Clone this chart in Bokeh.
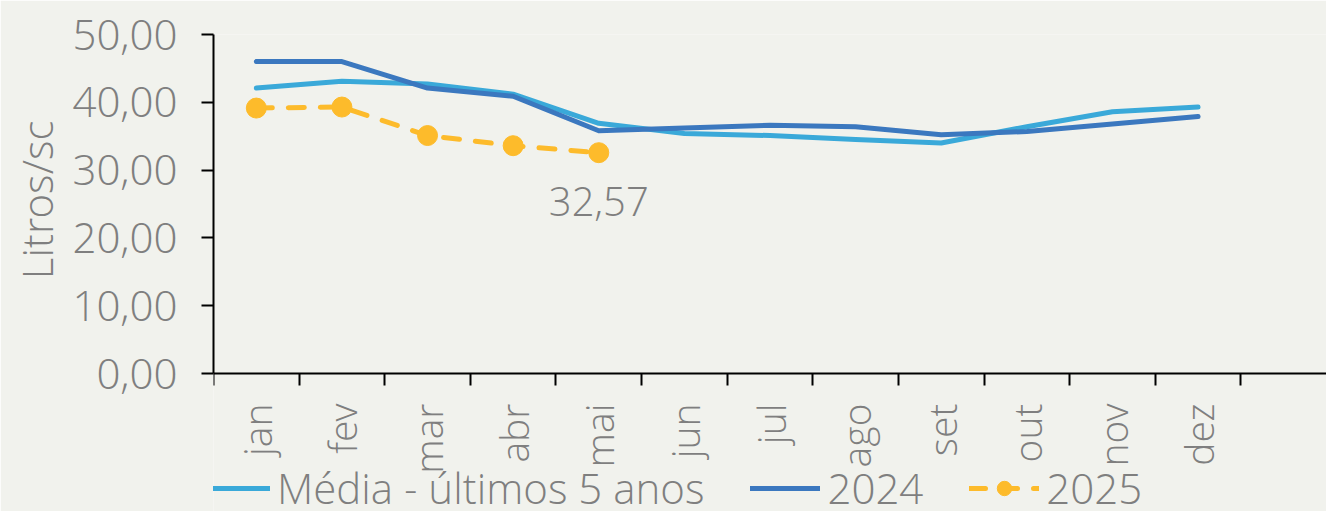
import math
from bokeh.plotting import figure
from bokeh.models import (Range1d, FixedTicker, CustomJSTickFormatter, Legend, LegendItem,
                          ColumnDataSource, Title)
from bokeh.core.properties import value
from bokeh.embed import file_html
from bokeh.resources import INLINE

months = ["jan", "fev", "mar", "abr", "mai", "jun", "jul", "ago", "set", "out", "nov", "dez"]
media = [42.1, 43.1, 42.7, 41.2, 36.9, 35.4, 35.1, 34.5, 34.0, 36.4, 38.6, 39.3]
y2024 = [46.0, 46.0, 42.1, 40.9, 35.8, 36.2, 36.6, 36.4, 35.2, 35.7, 36.8, 37.9]
y2025 = [39.15, 39.3, 35.1, 33.6, 32.57]
y_ticks = [0, 10, 20, 30, 40, 50]
series_names = ["Média - últimos 5 anos", "2024", "2025"]
y_title = "Litros/sc"

FONT = "Open Sans Light, Open Sans"
GRAY = "#7f7f7f"
BG = "#f1f2ed"
C_MEDIA = "#3aa9d9"
C_2024 = "#3b78bf"
C_2025 = "#fdbb2b"

xs = [i + 0.5 for i in range(len(months))]

# frame spans y 34..511 px; value 0 must sit at y=373 px, 50 at y=34 px
Y_MIN = -50 * (511 - 373) / (373 - 34)

p = figure(width=1326, height=511, output_backend="svg", toolbar_location=None,
           x_range=Range1d(0, 13), y_range=Range1d(Y_MIN, 50),
           min_border_left=213, min_border_right=0, min_border_top=34, min_border_bottom=0)
p.background_fill_color = BG
p.border_fill_color = BG
p.outline_line_color = None
p.xgrid.visible = False
p.ygrid.visible = False

r_media = p.line(xs, media, line_color=C_MEDIA, line_width=5, line_cap="round", line_join="round")
r_2024 = p.line(xs, y2024, line_color=C_2024, line_width=5, line_cap="round", line_join="round")
xs25 = xs[:len(y2025)]
r_2025l = p.line(xs25, y2025, line_color=C_2025, line_width=5, line_dash="16 16",
                 line_cap="round", line_join="round")
r_2025s = p.scatter(xs25, y2025, size=20, fill_color=C_2025, line_color=C_2025)

lab_src = ColumnDataSource(dict(x=[xs25[-1]], y=[y2025[-1]],
                                t=[f"{y2025[-1]:.2f}".replace(".", ",")]))
p.text(x="x", y="y", text="t", source=lab_src, text_font=value(FONT), text_font_size="40px",
       text_color=GRAY, text_align="center", text_baseline="middle", y_offset=49)

# x axis (drawn at value 0)
xa = p.xaxis[0]
xa.fixed_location = 0
xa.ticker = FixedTicker(ticks=xs, minor_ticks=list(range(0, 13)))
xa.formatter = CustomJSTickFormatter(args=dict(m=months), code="return m[Math.floor(tick)];")
xa.major_tick_out = 0
xa.major_tick_in = 0
xa.minor_tick_out = 12
xa.minor_tick_in = 0
xa.minor_tick_line_color = "black"
xa.minor_tick_line_width = 2
xa.axis_line_color = "black"
xa.axis_line_width = 2
xa.major_label_orientation = math.pi / 2
xa.major_label_standoff = 18
xa.major_label_text_font = FONT
xa.major_label_text_font_size = "39px"
xa.major_label_text_color = GRAY

# y axis
ya = p.yaxis[0]
ya.bounds = (0, 50)
ya.ticker = FixedTicker(ticks=y_ticks, minor_ticks=[])
ya.formatter = CustomJSTickFormatter(code="return tick.toFixed(2).replace('.', ',');")
ya.major_tick_out = 12
ya.major_tick_in = 0
ya.major_tick_line_width = 2
ya.major_tick_line_color = "black"
ya.axis_line_color = "black"
ya.axis_line_width = 2
ya.major_label_standoff = 24
ya.major_label_text_font = FONT
ya.major_label_text_font_size = "42px"
ya.major_label_text_color = GRAY

ytitle = Title(text=y_title, align="right", offset=86, text_font=FONT,
               text_font_size="42px", text_font_style="normal", text_color=GRAY)
p.add_layout(ytitle, "left")

legend = Legend(items=[
    LegendItem(label=series_names[0], renderers=[r_media]),
    LegendItem(label=series_names[1], renderers=[r_2024]),
    LegendItem(label=series_names[2], renderers=[r_2025l, r_2025s]),
], location=(-13, -5), orientation="horizontal")
legend.padding = 0
legend.margin = 0
legend.spacing = 46
legend.label_standoff = 7
legend.glyph_width = 70
legend.glyph_height = 36
legend.label_text_font = FONT
legend.label_text_font_size = "42px"
legend.label_text_color = GRAY
legend.border_line_color = None
legend.background_fill_alpha = 0
p.add_layout(legend, "center")

open("out.html", "w").write(file_html(p, INLINE))
